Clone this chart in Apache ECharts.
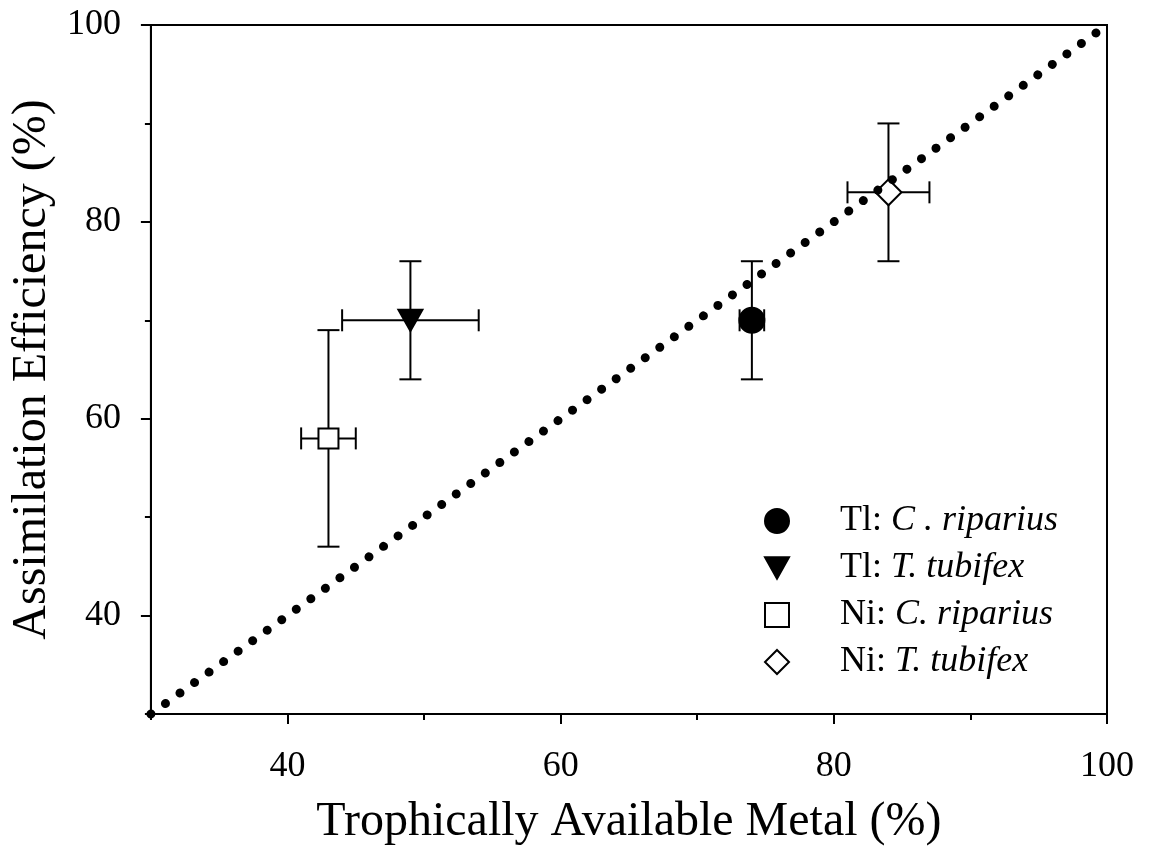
<!DOCTYPE html>
<html>
<head>
<meta charset="utf-8">
<script src="https://cdn.jsdelivr.net/npm/echarts@6/dist/echarts.min.js"></script>
<style>
  html, body { margin: 0; padding: 0; background: #fff; }
  #chart { width: 1151px; height: 851px; }
</style>
</head>
<body>
<div id="chart"></div>
<script>
  // values
  var seriesNames = ['Tl: C . riparius', 'Tl: T. tubifex', 'Ni: C. riparius', 'Ni: T. tubifex'];
  var metalX = [74, 49, 43, 84];
  var efficiencyY = [70, 70, 58, 83];
  var xErrLow = [73.1, 44, 41, 81];
  var xErrHigh = [74.9, 54, 45, 87];
  var yErrLow = [64, 64, 47, 76];
  var yErrHigh = [76, 76, 69, 90];
  var oneToOne = [[30, 30], [100, 100]];
  var majorTicks = [40, 60, 80, 100];
  var minorTicks = [30, 50, 70, 90];

  var serif = "'Liberation Serif', 'Times New Roman', serif";

  var markerStyles = [
    { symbol: 'circle', size: 25, color: '#000', border: '#000' },
    { symbol: 'path://M0,0 L20,0 L10,18 Z', size: [24, 21], color: '#000', border: '#000' },
    { symbol: 'rect', size: 20, color: '#fff', border: '#000' },
    { symbol: 'diamond', size: 26, color: '#fff', border: '#000' }
  ];

  var errData = metalX.map(function (x, i) {
    return [x, efficiencyY[i], xErrLow[i], xErrHigh[i], yErrLow[i], yErrHigh[i]];
  });

  function renderErr(params, api) {
    var x = api.value(0), y = api.value(1);
    var c = api.coord([x, y]);
    var l = api.coord([api.value(2), y]);
    var r = api.coord([api.value(3), y]);
    var b = api.coord([x, api.value(4)]);
    var t = api.coord([x, api.value(5)]);
    var cap = 11;
    var st = { stroke: '#000', lineWidth: 2 };
    return {
      type: 'group',
      children: [
        { type: 'line', shape: { x1: l[0], y1: c[1], x2: r[0], y2: c[1] }, style: st },
        { type: 'line', shape: { x1: l[0], y1: c[1] - cap, x2: l[0], y2: c[1] + cap }, style: st },
        { type: 'line', shape: { x1: r[0], y1: c[1] - cap, x2: r[0], y2: c[1] + cap }, style: st },
        { type: 'line', shape: { x1: c[0], y1: b[1], x2: c[0], y2: t[1] }, style: st },
        { type: 'line', shape: { x1: c[0] - cap, y1: b[1], x2: c[0] + cap, y2: b[1] }, style: st },
        { type: 'line', shape: { x1: c[0] - cap, y1: t[1], x2: c[0] + cap, y2: t[1] }, style: st }
      ]
    };
  }

  function axisPair(dim, name, nameGap) {
    var main = {
      type: 'value', min: 30, max: 100, interval: 10,
      name: name, nameLocation: 'middle', nameGap: nameGap,
      nameTextStyle: { fontFamily: serif, fontSize: 48, color: '#000' },
      axisLine: { show: true, lineStyle: { color: '#000', width: 2 } },
      axisTick: { show: true, inside: false, length: 10, lineStyle: { color: '#000', width: 2 }, customValues: majorTicks },
      axisLabel: { fontFamily: serif, fontSize: 36, color: '#000', margin: dim === 'x' ? 35 : 30, customValues: majorTicks },
      splitLine: { show: false }
    };
    var minor = {
      type: 'value', min: 30, max: 100, interval: 10,
      position: dim === 'x' ? 'bottom' : 'left',
      axisLine: { show: false },
      axisTick: { show: true, inside: false, length: 6, lineStyle: { color: '#000', width: 2 }, customValues: minorTicks },
      axisLabel: { show: false },
      splitLine: { show: false }
    };
    return [main, minor];
  }

  var series = [{
    type: 'custom',
    name: 'err',
    renderItem: renderErr,
    data: errData,
    encode: { x: 0, y: 1 },
    z: 2
  }];

  seriesNames.forEach(function (name, i) {
    var m = markerStyles[i];
    series.push({
      type: 'scatter',
      name: name,
      symbol: m.symbol,
      symbolSize: m.size,
      itemStyle: { color: m.color, borderColor: m.border, borderWidth: 2, opacity: 1 },
      data: [[metalX[i], efficiencyY[i]]],
      z: 3
    });
  });

  // 1:1 line, drawn as dots
  series.push({
    type: 'line',
    name: '1:1',
    data: oneToOne,
    symbol: 'none',
    clip: false,
    lineStyle: { color: '#000', width: 9, type: [0.001, 17.92], cap: 'round' },
    z: 4,
    silent: true
  });

  var chart = echarts.init(document.getElementById('chart'));
  chart.setOption({
    animation: false,
    backgroundColor: '#fff',
    grid: {
      left: 146, right: 44, top: 25, bottom: 135,
      show: true, borderColor: '#000', borderWidth: 2,
      containLabel: false
    },
    xAxis: axisPair('x', 'Trophically Available Metal (%)', 84),
    yAxis: axisPair('y', 'Assimilation Efficiency (%)', 78),
    legend: {
      data: seriesNames,
      orient: 'vertical',
      left: 759,
      top: 498,
      itemWidth: 24,
      itemHeight: 24,
      itemGap: 11,
      textStyle: {
        fontFamily: serif, fontSize: 36, color: '#000', lineHeight: 36,
        padding: [0, 0, 0, 46],
        rich: { i: { fontFamily: serif, fontSize: 36, fontStyle: 'italic', color: '#000', lineHeight: 36 } }
      },
      formatter: function (name) {
        var parts = name.split(': ');
        return parts[0] + ': {i|' + parts[1] + '}';
      }
    },
    series: series
  });
</script>
</body>
</html>
